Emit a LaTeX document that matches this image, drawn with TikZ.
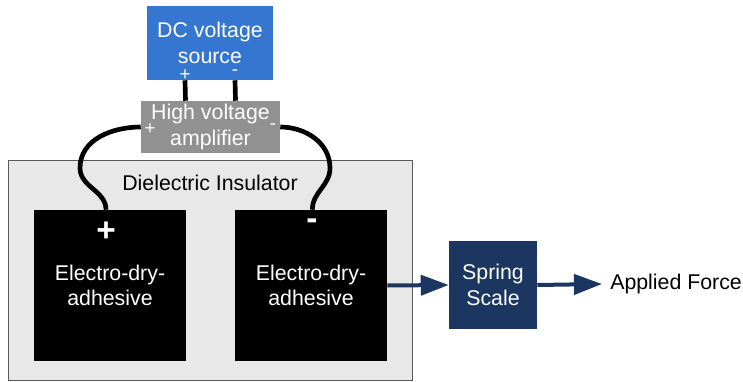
\documentclass[tikz,border=0pt]{standalone}
\usepackage{fontspec}
\setmainfont{Liberation Sans}
\usepackage{xcolor}
\usetikzlibrary{arrows.meta}
\definecolor{srcblue}{RGB}{53,118,208}
\definecolor{ampgray}{RGB}{145,145,145}
\definecolor{scalenavy}{RGB}{27,54,96}
\definecolor{insulfill}{RGB}{232,232,232}
\definecolor{insulline}{RGB}{90,90,90}

\begin{document}
\begin{tikzpicture}[x=0.75pt,y=-0.75pt,
  every node/.style={font=\fontsize{16}{19}\selectfont},
  box/.style={align=center,inner sep=0pt,text=white},
  sign/.style={text=white,inner sep=0pt,font=\fontsize{14}{14}\selectfont},
  bigsign/.style={text=white,inner sep=0pt,font=\fontsize{25}{25}\selectfont\bfseries},
  wire/.style={line width=3.5pt},
  push/.style={-{Triangle[length=21pt,width=15pt]},line width=3pt,draw=scalenavy}]
\useasboundingbox (0,0) rectangle (743,382);
% insulator and the two pads
\node[draw=insulline,fill=insulfill,minimum width=303pt,minimum height=165pt,inner sep=0pt] (insul) at (210,270) {};
\node (insullbl) at (210,183) {Dielectric Insulator};
\node[box,fill=black,minimum width=114pt,minimum height=113.25pt] (edaL) at (110,285.5) {Electro-dry-\\adhesive};
\node[box,fill=black,minimum width=114pt,minimum height=113.25pt] (edaR) at (311,285.5) {Electro-dry-\\adhesive};
\node[bigsign] at (106,232) {+};
\node[bigsign] at (312,224) {-};
% supply chain
\node[box,fill=srcblue,minimum width=94.5pt,minimum height=55.5pt] (dcsrc) at (210,43) {DC voltage\\source};
\node[box,fill=ampgray,minimum width=104.25pt,minimum height=39pt] (amp) at (210.5,127) {High voltage\\amplifier};
\node[sign] at (185,75) {+};
\node[sign] at (235,73) {-};
\node[sign] at (150,129) {+};
\node[sign] at (273,127) {-};
\foreach \dx in {-18.75pt,18.75pt}
  \draw[wire] ([xshift=\dx]dcsrc.south) -- ([xshift=\dx]amp.north);
\draw[wire] (amp.west) to[out=180,in=90] (80,168) to[out=-90,in=90] ([xshift=-3pt]edaL.north);
\draw[wire] (amp.east) to[out=0,in=90] (330,168) to[out=-90,in=90] ([xshift=1pt]edaR.north);
% force measurement
\node[box,fill=scalenavy,minimum size=66pt] (scale) at (493,285) {Spring\\Scale};
\node[anchor=west,inner sep=6pt] (force) at (602,284) {Applied Force};
\draw[push] (edaR.east) -- (scale.west);
\draw[push] (scale.east) -- (force.west);
\end{tikzpicture}
\end{document}
